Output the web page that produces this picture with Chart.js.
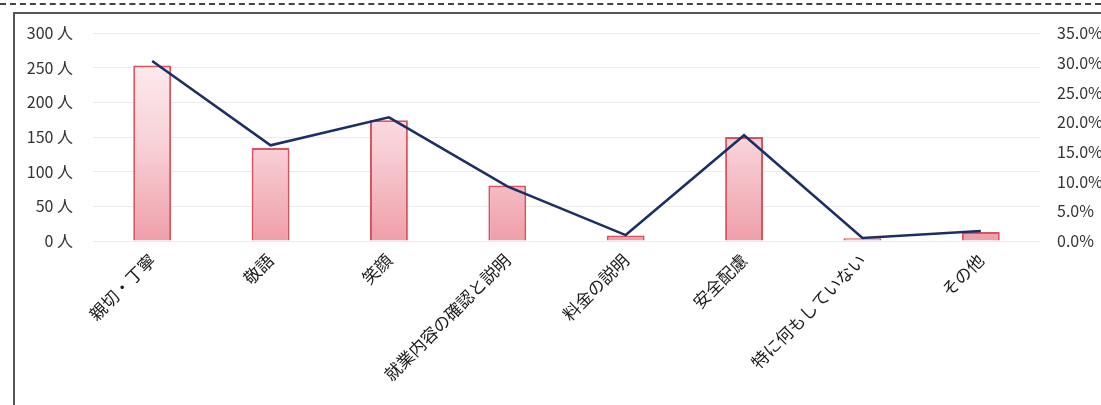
<!DOCTYPE html>
<html>
<head>
<meta charset="utf-8">
<script src="https://cdn.jsdelivr.net/npm/chart.js@4.4.1/dist/chart.umd.min.js"></script>
<style>
  html, body { margin: 0; padding: 0; background: #fff; }
  #wrap { position: relative; width: 1101px; height: 405px; overflow: hidden; }
  .dash { position: absolute; left: 0; top: 3px; width: 1101px; border-top: 2px dashed #444; }
  .frame { position: absolute; left: 13px; top: 12px; width: 1100px; height: 400px; border: 2px solid #555; box-sizing: border-box; }
  canvas { position: absolute; left: 0; top: 0; }
</style>
</head>
<body>
<div id="wrap">
  <div class="dash"></div>
  <div class="frame"></div>
  <canvas id="chart" width="1101" height="405"></canvas>
</div>
<script>
const categories = ['親切・丁寧', '敬語', '笑顔', '就業内容の確認と説明', '料金の説明', '安全配慮', '特に何もしていない', 'その他'];
const peopleCounts = [253, 134, 174, 80, 8, 150, 4, 13];
const sharePercent = [30.3, 16.1, 20.8, 9.2, 1.0, 17.8, 0.5, 1.7];

const axisFont = { family: "'Noto Sans CJK JP', 'Noto Sans', sans-serif", size: 16 };
const labelFont = { family: "'Noto Sans CJK JP', 'Noto Sans', sans-serif", size: 17 };

function barGradient(ctx) {
  const area = ctx.chart.chartArea;
  if (!area) return '#f6c6cc';
  const g = ctx.chart.ctx.createLinearGradient(0, area.top, 0, area.bottom);
  g.addColorStop(0, '#fdf3f5');
  g.addColorStop(0.55, '#f8d0d6');
  g.addColorStop(1, '#ef9ea8');
  return g;
}

new Chart(document.getElementById('chart').getContext('2d'), {
  data: {
    labels: categories,
    datasets: [
      {
        type: 'line',
        label: '割合',
        data: sharePercent,
        yAxisID: 'y1',
        borderColor: '#1c2f62',
        borderWidth: 2.5,
        tension: 0,
        pointRadius: 0,
        order: 0
      },
      {
        type: 'bar',
        label: '人数',
        data: peopleCounts,
        yAxisID: 'y',
        backgroundColor: barGradient,
        borderColor: '#d9545e',
        borderWidth: 2,
        categoryPercentage: 1,
        barPercentage: 0.32,
        order: 1
      }
    ]
  },
  options: {
    responsive: false,
    animation: false,
    layout: { padding: { left: 14, top: 33, right: 0, bottom: 0 } },
    plugins: { legend: { display: false }, tooltip: { enabled: false } },
    scales: {
      x: {
        grid: { display: false, drawTicks: false },
        border: { display: false },
        ticks: { color: '#1a1a1a', font: labelFont, minRotation: 45, maxRotation: 45, padding: 9 },
        afterFit: s => { s.height = 164; }
      },
      y: {
        position: 'left',
        min: 0, max: 300,
        grid: { color: '#ebebeb', drawTicks: false },
        border: { display: false },
        ticks: { stepSize: 50, color: '#333', font: axisFont, padding: 20, callback: v => v + ' 人' },
        afterFit: s => { s.width = 79; }
      },
      y1: {
        position: 'right',
        min: 0, max: 35,
        grid: { display: false, drawTicks: false },
        border: { display: false },
        ticks: { stepSize: 5, color: '#333', font: axisFont, padding: 17, callback: v => v.toFixed(1) + '%' },
        afterFit: s => { s.width = 61; }
      }
    }
  }
});
</script>
</body>
</html>
